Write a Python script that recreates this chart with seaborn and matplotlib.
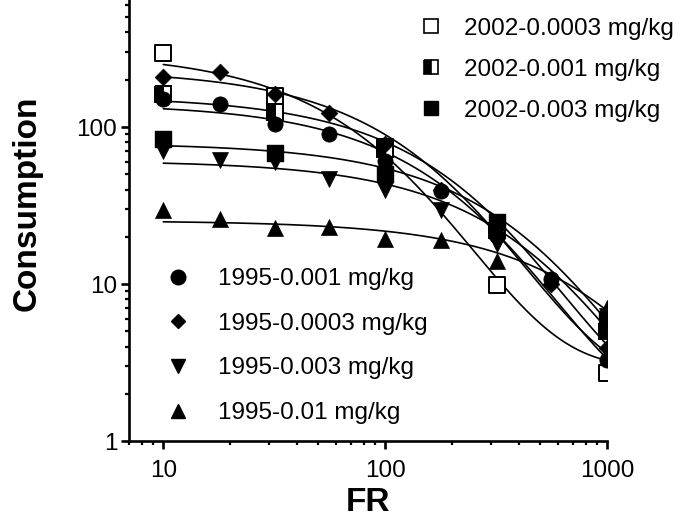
import numpy as np
import pandas as pd
import matplotlib
matplotlib.use("Agg")
import matplotlib.pyplot as plt
from matplotlib.lines import Line2D
import seaborn as sns

# ---------------- data ----------------
fr_1995 = [10, 18, 32, 56, 100, 178, 320, 560, 1000]
q_1995_0001 = [150, 141, 104, 90, 61, 39, 20.2, 10.8, 3.3]      # circle
q_1995_00003 = [208, 225, 162, 122, 78, 40, 19.7, 10.0, 3.9]    # diamond
q_1995_0003 = [70, 62, 60, 47, 40, 29.7, 18, np.nan, 6.3]       # down triangle
q_1995_001 = [29.5, 25.8, 22.6, 23.1, 19.5, 19, 14, np.nan, 7.0]  # up triangle

fr_2002 = [10, 32, 100, 320, 1000]
q_2002_00003 = [295, 157, 75, 9.9, 2.7]   # open square
q_2002_0001 = [162, 125, 72, 22, 5.0]     # half-filled square
q_2002_0003 = [84, 68, 50, 25, 6.0]       # filled square

labels_2002 = ["2002-0.0003 mg/kg", "2002-0.001 mg/kg", "2002-0.003 mg/kg"]
labels_1995 = ["1995-0.001 mg/kg", "1995-0.0003 mg/kg", "1995-0.003 mg/kg", "1995-0.01 mg/kg"]

x_ticks = [10, 100, 1000]
y_ticks = [1, 10, 100]

series = [
    (labels_2002[0], fr_2002, q_2002_00003),
    (labels_2002[1], fr_2002, q_2002_0001),
    (labels_2002[2], fr_2002, q_2002_0003),
    (labels_1995[0], fr_1995, q_1995_0001),
    (labels_1995[1], fr_1995, q_1995_00003),
    (labels_1995[2], fr_1995, q_1995_0003),
    (labels_1995[3], fr_1995, q_1995_001),
]

rows = []
for name, xs, ys in series:
    for xv, yv in zip(xs, ys):
        if not np.isnan(yv):
            rows.append((name, xv, yv))
pts = pd.DataFrame(rows, columns=["series", "FR", "Q"])


# ---------- exponential demand fit (Hursh & Silberberg), shared k ----------
def fit(x, y, k):
    x = np.asarray(x, float)
    ly = np.log10(np.asarray(y, float))
    q0 = 10 ** np.linspace(ly.max() - 0.4, ly.max() + 0.4, 121)
    al = 10 ** np.linspace(-7.5, -2, 221)
    Q0, A = np.meshgrid(q0, al, indexing="ij")
    pred = np.log10(Q0)[..., None] + k * (np.exp(-(A * Q0)[..., None] * x) - 1)
    sse = ((pred - ly) ** 2).sum(-1)
    i, j = np.unravel_index(sse.argmin(), sse.shape)
    return sse[i, j], q0[i], al[j]


groups = [g for _, g in pts.groupby("series", sort=False)]
best = None
for k in np.linspace(1.5, 4.0, 11):
    res = [fit(g.FR.values, g.Q.values, k) for g in groups]
    tot = sum(r[0] for r in res)
    if best is None or tot < best[0]:
        best = (tot, k, res)
_, k_best, params = best

xc = np.logspace(1, 3, 200)
crows = []
for g, (_, q0, al) in zip(groups, params):
    name = g.series.iloc[0]
    yc = 10 ** (np.log10(q0) + k_best * (np.exp(-al * q0 * xc) - 1))
    for a, b in zip(xc, yc):
        crows.append((name, a, b))
curves = pd.DataFrame(crows, columns=["series", "FR", "Q"])

# ---------------- figure ----------------
sns.set_theme(style="ticks")
plt.rcParams["font.family"] = ["Liberation Sans", "DejaVu Sans"]
plt.rcParams["text.color"] = "black"
plt.rcParams["axes.labelcolor"] = "black"
plt.rcParams["xtick.color"] = "black"
plt.rcParams["ytick.color"] = "black"

fig = plt.figure(figsize=(6.86, 5.27), dpi=100)
ax = fig.add_axes([0.188, 0.163, 0.697, 0.837])

sns.lineplot(data=curves, x="FR", y="Q", units="series", estimator=None,
             color="black", lw=1.2, ax=ax, legend=False, zorder=2)

ms_sq = 11.0
d = pts[pts.series == labels_2002[0]]
sns.scatterplot(data=d, x="FR", y="Q", marker="s", s=ms_sq ** 2, facecolor="white",
                edgecolor="black", linewidth=1.4, ax=ax, zorder=3, legend=False)
d = pts[pts.series == labels_2002[1]]
ax.plot(d.FR, d.Q, ls="none", marker="s", ms=ms_sq, fillstyle="left",
        markerfacecolor="black", markerfacecoloralt="white", markeredgecolor="black",
        markeredgewidth=1.4, zorder=3)
d = pts[pts.series == labels_2002[2]]
sns.scatterplot(data=d, x="FR", y="Q", marker="s", s=ms_sq ** 2, color="black",
                edgecolor="black", linewidth=1.0, ax=ax, zorder=3, legend=False)

for lab, mk, sz in [(labels_1995[0], "o", 11.0), (labels_1995[1], "D", 8.5),
                    (labels_1995[2], "v", 11.5), (labels_1995[3], "^", 11.5)]:
    d = pts[pts.series == lab]
    sns.scatterplot(data=d, x="FR", y="Q", marker=mk, s=sz ** 2, color="black",
                    edgecolor="black", linewidth=0.5, ax=ax, zorder=4, legend=False)

ax.set_xscale("log")
ax.set_yscale("log")
ax.set_xlim(7, 1000)
ax.set_ylim(1, 644)
ax.set_xticks(x_ticks)
ax.set_xticklabels([str(v) for v in x_ticks])
ax.set_yticks(y_ticks)
ax.set_yticklabels([str(v) for v in y_ticks])

for side in ["top", "right"]:
    ax.spines[side].set_visible(False)
for side in ["left", "bottom"]:
    ax.spines[side].set_linewidth(1.9)
    ax.spines[side].set_color("black")
ax.tick_params(which="major", length=5.5, width=1.9, labelsize=17.5, colors="black")
ax.tick_params(axis="x", which="major", pad=8)
ax.tick_params(axis="y", which="major", pad=3)
ax.tick_params(which="minor", length=3.2, width=1.6, colors="black")
ax.set_xlabel("FR", fontsize=24, fontweight="bold", labelpad=4)
ax.set_ylabel("Consumption", fontsize=24, fontweight="bold")
ax.yaxis.set_label_coords(-0.181, 0.54)

# legends
lsz = 10.5
h2002 = [
    Line2D([], [], ls="none", marker="s", ms=lsz, markerfacecolor="white",
           markeredgecolor="black", markeredgewidth=1.2),
    Line2D([], [], ls="none", marker="s", ms=lsz, fillstyle="left", markerfacecolor="black",
           markerfacecoloralt="white", markeredgecolor="black", markeredgewidth=1.2),
    Line2D([], [], ls="none", marker="s", ms=lsz, color="black"),
]
h1995 = [
    Line2D([], [], ls="none", marker="o", ms=lsz, color="black"),
    Line2D([], [], ls="none", marker="D", ms=lsz * 0.72, color="black"),
    Line2D([], [], ls="none", marker="v", ms=lsz, color="black"),
    Line2D([], [], ls="none", marker="^", ms=lsz, color="black"),
]
leg1 = fig.legend(h2002, labels_2002, loc="upper left", bbox_to_anchor=(0.611, 0.966),
                  frameon=False, fontsize=17.5, handlelength=1.0, handletextpad=0.83,
                  labelspacing=0.78, borderpad=0, borderaxespad=0)
leg2 = fig.legend(h1995, labels_1995, loc="upper left", bbox_to_anchor=(0.242, 0.491),
                  frameon=False, fontsize=17.5, handlelength=1.0, handletextpad=1.12,
                  labelspacing=0.93, borderpad=0, borderaxespad=0)

fig.savefig("out.png", dpi=100)
